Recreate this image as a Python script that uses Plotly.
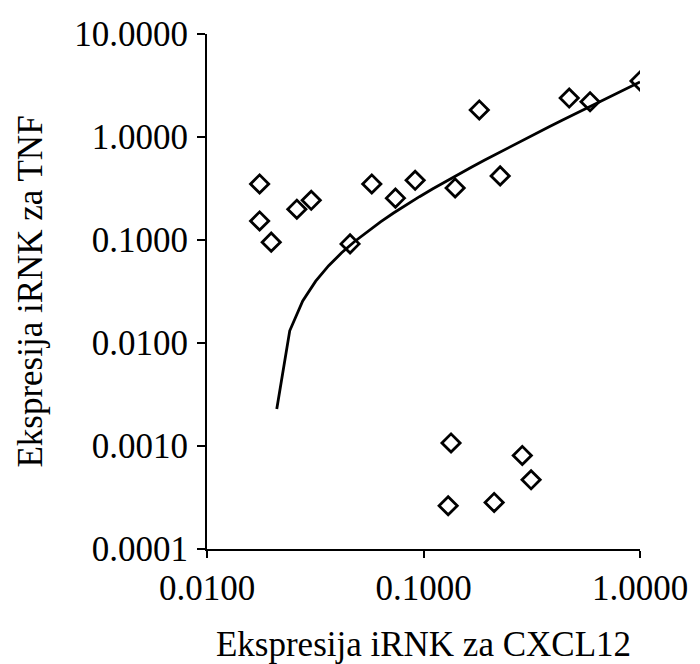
import numpy as np
import plotly.graph_objects as go

# CXCL12 mRNA expression (x) vs TNF mRNA expression (y)
cxcl12 = [0.0175, 0.0175, 0.0198, 0.0260, 0.0303, 0.0458, 0.0577, 0.0742, 0.0915, 0.140,
          0.181, 0.226, 0.471, 0.588, 1.000, 0.134, 0.130, 0.212, 0.286, 0.314]
tnf = [0.350, 0.153, 0.0953, 0.199, 0.243, 0.0917, 0.350, 0.255, 0.380, 0.320,
       1.83, 0.419, 2.39, 2.20, 3.50, 0.00107, 0.000263, 0.000283, 0.000809, 0.000470]

# linear trendline (y = a*x + b) as drawn on the chart
trend_slope = 3.49
trend_intercept = -0.0710
trend_x_start = 0.021
trend_n = 29

x_tickvals = [0.01, 0.1, 1.0]
x_ticktext = ["0.0100", "0.1000", "1.0000"]
y_tickvals = [0.0001, 0.001, 0.01, 0.1, 1.0, 10.0]
y_ticktext = ["0.0001", "0.0010", "0.0100", "0.1000", "1.0000", "10.0000"]

x_title = "Ekspresija iRNK za CXCL12"
y_title = "Ekspresija iRNK za TNF"

tx = np.geomspace(trend_x_start, max(cxcl12), trend_n)
ty = trend_slope * tx + trend_intercept
mask = ty > 0
tx, ty = tx[mask], ty[mask]

FONT = "Liberation Serif, Times New Roman, serif"
FS = 35

fig = go.Figure()
fig.add_trace(go.Scatter(
    x=tx, y=ty, mode="lines",
    line=dict(color="black", width=2.8),
    showlegend=False, hoverinfo="skip",
))
fig.add_trace(go.Scatter(
    x=cxcl12, y=tnf, mode="markers",
    marker=dict(symbol="diamond-open", size=14, color="black",
                line=dict(color="black", width=2.8)),
    showlegend=False,
))

fig.update_layout(
    width=692, height=656,
    margin=dict(l=199, r=60, t=26, b=115),
    paper_bgcolor="white", plot_bgcolor="white",
    font=dict(family=FONT, size=FS, color="black"),
    xaxis=dict(
        type="log", range=[-2, 0],
        tickvals=x_tickvals, ticktext=x_ticktext,
        ticks="outside", ticklen=7, tickwidth=2, tickcolor="black",
        showline=True, linecolor="black", linewidth=2,
        showgrid=False, zeroline=False,
        tickfont=dict(family=FONT, size=FS, color="black"),
        title=dict(text=x_title, font=dict(family=FONT, size=FS, color="black"), standoff=35),
        automargin=False,
    ),
    yaxis=dict(
        type="log", range=[-4, 1],
        tickvals=y_tickvals, ticktext=y_ticktext,
        ticks="outside", ticklen=8, tickwidth=2, tickcolor="black",
        ticklabelstandoff=2,
        showline=True, linecolor="black", linewidth=2,
        showgrid=False, zeroline=False,
        tickfont=dict(family=FONT, size=FS, color="black"),
        title=dict(text=y_title, font=dict(family=FONT, size=FS, color="black"), standoff=21),
        automargin=False,
    ),
)

fig.write_html("out.html")
